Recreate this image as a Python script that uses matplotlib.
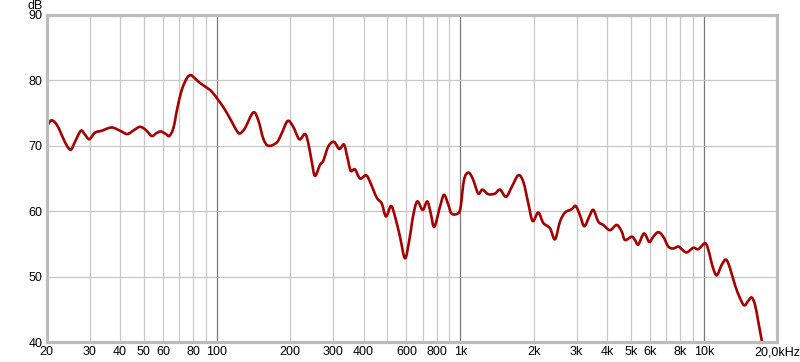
import matplotlib
matplotlib.use("Agg")
import matplotlib.pyplot as plt
from matplotlib.path import Path
from matplotlib.patches import PathPatch
import numpy as np

freq_hz = [20, 20.9, 22.0, 23.0, 24.1, 25.1, 26.1, 27.6, 28.7, 29.9, 31.5, 33.6, 36.9, 40.0,
           42.8, 45.6, 48.3, 51.1, 53.9, 56.2, 58.7, 61.7, 63.7, 66.2, 68.7, 71.6, 75.1, 78.0,
           81.2, 85.2, 90.7, 95.1, 101.2, 107.9, 114.9, 120.5, 124.3,
           130.3, 140.9, 147.8, 154.9, 162.4, 175.9, 184.4, 195.1, 205.7, 217.8, 229.9, 237.1,
           244.9, 252.6, 264.9, 273.2, 286.5, 302.4, 317.9, 332.3, 342.8, 354.0, 368.7, 386.6,
           409.2, 424.9, 452.6, 474.6, 494.3, 518.3, 538.3, 564.3, 591.7, 616.2, 639.9, 664.7,
           699.5, 730.6, 754.5, 780.7, 823.8,
           855.6, 891.2, 920.2, 979.3, 1002, 1034, 1077, 1122, 1183, 1229, 1301, 1386, 1453,
           1538, 1623, 1727, 1811, 1899, 1979, 2087, 2188, 2331, 2444, 2562, 2686, 2861, 2972,
           3095, 3224, 3381, 3512, 3682, 3859, 4111, 4381, 4592, 4737, 5048,
           5208, 5373, 5671, 5961, 6192, 6491, 6806, 7135, 7481, 7842, 8099, 8491, 9037, 9476,
           10097, 10417, 10860, 11278, 11825, 12315, 12788, 13407, 14060, 14639, 15203, 15702,
           16199, 16713, 17259, 17400]
level_db = [72.9, 73.9, 73.2, 71.7, 70.1, 69.4, 70.6, 72.3, 71.7, 71.0, 72.0, 72.3, 72.8, 72.3,
            71.8, 72.4, 72.9, 72.4, 71.5, 71.9, 72.2, 71.8, 71.5, 72.7, 75.7, 78.5, 80.3, 80.8,
            80.3, 79.6, 78.9, 78.3, 77.0, 75.5, 73.7, 72.3, 71.9,
            72.7, 75.1, 73.9, 71.1, 70.0, 70.5, 71.9, 73.8, 72.9, 71.0, 71.8, 70.4,
            67.6, 65.4, 67.1, 67.7, 69.9, 70.6, 69.5, 70.2, 68.3, 66.2, 66.4, 65.0,
            65.5, 64.5, 62.1, 61.2, 59.2, 60.8, 59.2, 56.1, 52.8, 55.6, 59.4, 61.5,
            60.2, 61.5, 59.7, 57.6, 60.7,
            62.5, 61.0, 59.6, 59.7, 60.7, 64.8, 65.9, 65.0, 62.7, 63.3, 62.6, 62.7, 63.3,
            62.2, 63.7, 65.5, 64.5, 61.2, 58.5, 59.8, 58.2, 57.4, 55.7, 58.4, 59.8, 60.3, 60.8,
            59.4, 57.7, 59.2, 60.2, 58.4, 57.9, 57.1, 57.9, 56.9, 55.6, 56.1,
            55.6, 54.9, 56.6, 55.3, 56.1, 56.8, 56.1, 54.6, 54.3, 54.6, 54.2, 53.7, 54.4, 54.2,
            55.1, 54.1, 51.5, 50.2, 51.8, 52.6, 51.3, 48.7, 46.7, 45.6, 46.3, 46.8,
            45.7, 43.1, 40.3, 40.0]

minor_ticks = [30, 40, 50, 60, 70, 80, 90, 200, 300, 400, 500, 600, 700, 800, 900,
               2000, 3000, 4000, 5000, 6000, 7000, 8000, 9000]
major_ticks = [100, 1000, 10000]
x_tick_vals = [20, 30, 40, 50, 60, 80, 100, 200, 300, 400, 600, 800, 1000, 2000, 3000,
               4000, 5000, 6000, 8000, 10000, 20000]
x_tick_labels = ["20", "30", "40", "50", "60", "80", "100", "200", "300", "400", "600", "800",
                 "1k", "2k", "3k", "4k", "5k", "6k", "8k", "10k", "20,0kHz"]
y_ticks = [40, 50, 60, 70, 80, 90]

plt.rcParams['font.family'] = ['Liberation Sans', 'DejaVu Sans']
fig = plt.figure(figsize=(8, 3.62), dpi=100)
ax = fig.add_axes([0.0585, 0.0552, 0.9131, 0.9034])
ax.set_xscale('log')
ax.set_xlim(20, 20000)
ax.set_ylim(40, 90)

for v in minor_ticks:
    ax.axvline(v, color='#c8c8c8', lw=0.9, zorder=1)
for v in major_ticks:
    ax.axvline(v, color='#7a7a7a', lw=0.9, zorder=1)
for v in y_ticks[1:-1]:
    ax.axhline(v, color='#c8c8c8', lw=0.9, zorder=1)

# smooth curve through the measured points (Catmull-Rom as cubic Bezier, in log-f space)
lx = np.log10(np.asarray(freq_hz, float))
ly = np.asarray(level_db, float)
P = np.column_stack([lx, ly])
Pe = np.vstack([P[0], P, P[-1]])
verts = [P[0]]
codes = [Path.MOVETO]
for i in range(len(P) - 1):
    p0, p1, p2, p3 = Pe[i], Pe[i + 1], Pe[i + 2], Pe[i + 3]
    c1 = p1 + (p2 - p0) / 6.0
    c2 = p2 - (p3 - p1) / 6.0
    verts += [c1, c2, p2]
    codes += [Path.CURVE4] * 3
verts = np.array(verts)
verts[:, 0] = 10 ** verts[:, 0]
patch = PathPatch(Path(verts, codes), facecolor='none', edgecolor='#a50000', lw=1.9,
                  zorder=3, joinstyle='round', capstyle='round', clip_on=True)
ax.add_patch(patch)

ax.set_xticks(x_tick_vals)
ax.set_xticklabels(x_tick_labels)
ax.xaxis.set_minor_locator(matplotlib.ticker.NullLocator())
ax.set_yticks(y_ticks)
ax.tick_params(length=0, labelsize=9, colors='black', pad=3)
for s in ax.spines.values():
    s.set_color('#bcbcbc')
    s.set_linewidth(2.3)
    s.set_zorder(4)
fig.text(0.0535, 1.0, "dB", ha='right', va='top', fontsize=9)

fig.savefig("out.png", dpi=100)
